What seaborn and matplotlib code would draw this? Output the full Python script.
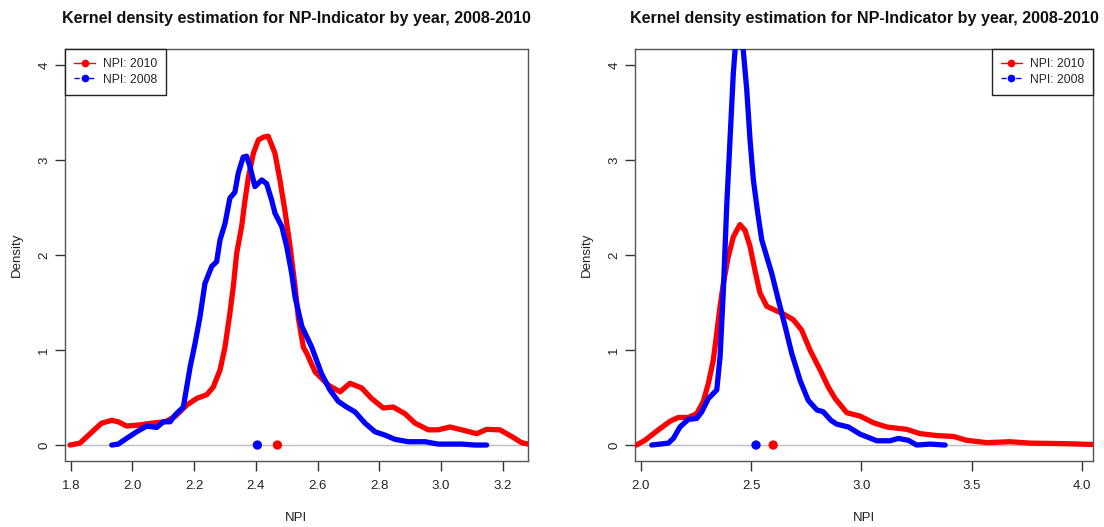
import numpy as np
import pandas as pd
import matplotlib
matplotlib.use("Agg")
import matplotlib.pyplot as plt
import seaborn as sns
from matplotlib.lines import Line2D

# ---------------- data ----------------
title = "Kernel density estimation for NP-Indicator by year, 2008-2010"
years = ["NPI: 2010", "NPI: 2008"]

# left panel
l_x_2010 = [1.798, 1.830, 1.863, 1.900, 1.933, 1.954, 1.981, 2.019, 2.062, 2.106, 2.138, 2.176,
            2.208, 2.241, 2.262, 2.284, 2.300, 2.316, 2.327, 2.338, 2.354, 2.365, 2.376, 2.392,
            2.408, 2.424, 2.440, 2.462, 2.478, 2.494, 2.511, 2.527, 2.538, 2.554, 2.565, 2.592,
            2.635, 2.673, 2.705, 2.743, 2.775, 2.813, 2.845, 2.883, 2.916, 2.959, 2.991, 3.029,
            3.067, 3.116, 3.148, 3.191, 3.229, 3.261, 3.283]
l_y_2010 = [0.00, 0.02, 0.12, 0.23, 0.26, 0.245, 0.20, 0.21, 0.23, 0.245, 0.30, 0.42,
            0.49, 0.53, 0.61, 0.79, 1.03, 1.39, 1.67, 2.02, 2.30, 2.58, 2.82, 3.07,
            3.21, 3.24, 3.25, 3.07, 2.79, 2.47, 2.09, 1.67, 1.33, 1.03, 0.965, 0.77,
            0.63, 0.56, 0.65, 0.60, 0.49, 0.39, 0.40, 0.33, 0.23, 0.16, 0.16, 0.19,
            0.16, 0.12, 0.165, 0.16, 0.09, 0.025, 0.01]
l_x_2008 = [1.933, 1.954, 1.981, 2.014, 2.046, 2.079, 2.100, 2.122, 2.138, 2.165, 2.176, 2.187,
            2.203, 2.219, 2.235, 2.257, 2.273, 2.284, 2.300, 2.316, 2.332, 2.343, 2.359, 2.370,
            2.381, 2.397, 2.419, 2.435, 2.451, 2.462, 2.484, 2.500, 2.516, 2.527, 2.549, 2.581,
            2.613, 2.640, 2.667, 2.694, 2.721, 2.754, 2.786, 2.818, 2.851, 2.894, 2.948, 2.991,
            3.067, 3.110, 3.148]
l_y_2008 = [0.00, 0.01, 0.07, 0.14, 0.20, 0.185, 0.245, 0.245, 0.315, 0.40, 0.61, 0.82,
            1.07, 1.35, 1.70, 1.88, 1.93, 2.16, 2.33, 2.60, 2.66, 2.86, 3.03, 3.04,
            2.93, 2.72, 2.79, 2.75, 2.58, 2.44, 2.30, 2.09, 1.81, 1.56, 1.25, 1.03,
            0.75, 0.58, 0.46, 0.40, 0.35, 0.23, 0.14, 0.105, 0.06, 0.035, 0.035, 0.01,
            0.01, 0.00, 0.00]
l_means = [2.470, 2.405]

# right panel
r_x_2010 = [1.980, 2.018, 2.079, 2.132, 2.169, 2.215, 2.253, 2.283, 2.306, 2.328, 2.344, 2.359,
            2.374, 2.396, 2.419, 2.449, 2.472, 2.495, 2.517, 2.540, 2.571, 2.608, 2.646, 2.691,
            2.729, 2.767, 2.813, 2.850, 2.881, 2.934, 2.994, 3.054, 3.115, 3.206, 3.266, 3.342,
            3.418, 3.478, 3.569, 3.675, 3.766, 3.917, 4.060]
r_y_2010 = [0.00, 0.05, 0.16, 0.25, 0.29, 0.29, 0.33, 0.46, 0.65, 0.89, 1.18, 1.46,
            1.70, 1.98, 2.19, 2.32, 2.26, 2.09, 1.84, 1.60, 1.46, 1.42, 1.38, 1.32,
            1.21, 1.00, 0.79, 0.61, 0.49, 0.34, 0.305, 0.235, 0.19, 0.165, 0.12, 0.10,
            0.09, 0.05, 0.025, 0.035, 0.02, 0.015, 0.005]
r_x_2008 = [2.049, 2.124, 2.147, 2.177, 2.215, 2.253, 2.276, 2.306, 2.344, 2.359, 2.374, 2.389,
            2.404, 2.419, 2.427, 2.444, 2.464, 2.480, 2.495, 2.510, 2.530, 2.548, 2.571, 2.593,
            2.623, 2.654, 2.684, 2.722, 2.759, 2.798, 2.827, 2.862, 2.888, 2.941, 2.994, 3.070,
            3.130, 3.168, 3.213, 3.251, 3.312, 3.380]
r_y_2008 = [0.00, 0.02, 0.07, 0.19, 0.27, 0.28, 0.35, 0.49, 0.58, 0.93, 1.63, 2.51,
            3.21, 3.91, 4.16, 4.35, 4.16, 3.74, 3.21, 2.79, 2.44, 2.16, 1.98, 1.81,
            1.53, 1.25, 0.965, 0.68, 0.47, 0.37, 0.35, 0.26, 0.22, 0.19, 0.115, 0.045,
            0.045, 0.07, 0.05, 0.00, 0.01, 0.00]
r_means = [2.600, 2.522]

l_xticks = [1.8, 2.0, 2.2, 2.4, 2.6, 2.8, 3.0, 3.2]
r_xticks = [2.0, 2.5, 3.0, 3.5, 4.0]
yticks = [0, 1, 2, 3, 4]

colors = {"NPI: 2010": "#FF0000", "NPI: 2008": "#0000FF"}

# ---------------- style ----------------
sns.set_style("white")
plt.rcParams["font.family"] = ["Liberation Sans", "DejaVu Sans"]

fig = plt.figure(figsize=(11.04, 5.27), dpi=100)
ax_l = fig.add_axes([65 / 1104, 1 - 461 / 527, 463 / 1104, 412 / 527])
ax_r = fig.add_axes([635 / 1104, 1 - 461 / 527, 458 / 1104, 412 / 527])


def make_df(x10, y10, x08, y08):
    return pd.concat([
        pd.DataFrame({"NPI": x10, "Density": y10, "year": years[0]}),
        pd.DataFrame({"NPI": x08, "Density": y08, "year": years[1]}),
    ], ignore_index=True)


def draw(ax, df, means, xlim, xticks, legend_loc):
    ax.axhline(0, color="#BEBEBE", lw=1, zorder=1)
    sns.lineplot(data=df, x="NPI", y="Density", hue="year", palette=colors,
                 estimator=None, sort=False, lw=3.8, legend=False, ax=ax, zorder=3)
    mdf = pd.DataFrame({"NPI": means, "Density": [0, 0], "year": years})
    sns.scatterplot(data=mdf, x="NPI", y="Density", hue="year", palette=colors,
                    s=45, edgecolor="none", legend=False, ax=ax, zorder=4)
    ax.set_xlim(*xlim)
    ax.set_ylim(-0.168, 4.168)
    ax.set_xticks(xticks)
    ax.set_xticklabels([f"{t:.1f}" for t in xticks])
    ax.set_yticks(yticks)
    ax.set_yticklabels([str(t) for t in yticks])
    for lbl in ax.get_yticklabels():
        lbl.set_rotation(90)
        lbl.set_va("center")
    ax.tick_params(axis="both", direction="out", length=7, width=1, color="#333333",
                   labelsize=9.5, labelcolor="#222222", bottom=True, left=True)
    ax.tick_params(axis="x", pad=7)
    ax.tick_params(axis="y", pad=3.5)
    for sp in ax.spines.values():
        sp.set_visible(True)
        sp.set_color("#555555")
        sp.set_linewidth(1)
    ax.set_xlabel("NPI", fontsize=9.5, color="#222222", labelpad=14)
    ax.set_ylabel("Density", fontsize=9.5, color="#222222", labelpad=11)
    ax.set_title(title, fontsize=11.6, fontweight="bold", pad=19, color="#111111")
    handles = [
        Line2D([], [], color="#FF0000", lw=1, ls="-", marker="o", markersize=4.5),
        Line2D([], [], color="#0000FF", lw=1, ls="--", marker="o", markersize=4.5),
    ]
    leg = ax.legend(handles, years, loc=legend_loc, borderaxespad=0, fancybox=False,
                    framealpha=1, edgecolor="#222222", fontsize=8.7, handlelength=1.75,
                    handletextpad=0.65, borderpad=0.75, labelspacing=0.3)
    leg.get_frame().set_linewidth(1)


draw(ax_l, make_df(l_x_2010, l_y_2010, l_x_2008, l_y_2008), l_means,
     (1.7815, 3.282), l_xticks, "upper left")
draw(ax_r, make_df(r_x_2010, r_y_2010, r_x_2008, r_y_2008), r_means,
     (1.973, 4.051), r_xticks, "upper right")

fig.savefig("out.png", dpi=100)
